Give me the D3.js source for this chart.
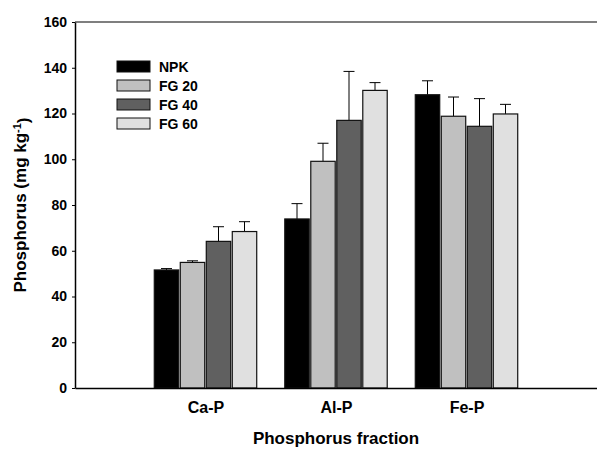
<!DOCTYPE html>
<html>
<head>
<meta charset="utf-8">
<script src="https://cdn.jsdelivr.net/npm/d3@7"></script>
<style>
  body { margin: 0; background: #fff; }
  svg text { font-family: "Liberation Sans", Arial, sans-serif; font-weight: bold; fill: #000; }
</style>
</head>
<body>
<script>
// Phosphorus fractions bar chart

// data
let categories = ["Ca-P", "Al-P", "Fe-P"];
let series = ["NPK", "FG 20", "FG 40", "FG 60"];
let colors = ["#000000", "#c0c0c0", "#606060", "#e0e0e0"];
let means = [
    [51.6, 54.9, 64.1, 68.4],    // Ca-P
    [73.9, 99.1, 117.0, 130.1],  // Al-P
    [128.2, 118.8, 114.4, 119.8] // Fe-P
];
let upper = [
    [52.2, 55.6, 70.5, 72.7],
    [80.6, 107.0, 138.4, 133.5],
    [134.3, 127.2, 126.5, 124.0]
];
let yTicks = [0, 20, 40, 60, 80, 100, 120, 140, 160];

// svg params
let svgWidth = 597;
let svgHeight = 449;
let margin = { top: 22, right: 0, bottom: 61, left: 75 };
let width = svgWidth - margin.left - margin.right;
let height = svgHeight - margin.top - margin.bottom;

let svg = d3.select("body")
    .append("svg")
    .attr("width", svgWidth)
    .attr("height", svgHeight);

let chartGroup = svg.append("g")
    .attr("transform", `translate(${margin.left}, ${margin.top})`);

// scales
let xScale = d3.scaleLinear()
    .domain([0, categories.length + 1])
    .range([0, width]);

let offset = d3.scaleBand()
    .domain(series)
    .range([-52, 52])
    .paddingInner(0.06)
    .paddingOuter(0.03);

let yScale = d3.scaleLinear()
    .domain([0, 160])
    .range([height, 0]);

// flatten for drawing
let rows = [];
categories.forEach((c, i) => {
    series.forEach((s, j) => {
        rows.push({ cat: c, pos: i + 1, s: s, color: colors[j], v: means[i][j], hi: upper[i][j] });
    });
});

// error bars (upper only)
let errGroup = chartGroup.append("g");
errGroup.selectAll("line.stem")
    .data(rows)
    .enter()
    .append("line")
    .attr("x1", d => xScale(d.pos) + offset(d.s) + offset.bandwidth() / 2)
    .attr("x2", d => xScale(d.pos) + offset(d.s) + offset.bandwidth() / 2)
    .attr("y1", d => yScale(d.v))
    .attr("y2", d => yScale(d.hi))
    .attr("stroke", "#000")
    .attr("stroke-width", 1);
errGroup.selectAll("line.cap")
    .data(rows)
    .enter()
    .append("line")
    .attr("x1", d => xScale(d.pos) + offset(d.s) + offset.bandwidth() / 2 - 5.5)
    .attr("x2", d => xScale(d.pos) + offset(d.s) + offset.bandwidth() / 2 + 5.5)
    .attr("y1", d => yScale(d.hi))
    .attr("y2", d => yScale(d.hi))
    .attr("stroke", "#000")
    .attr("stroke-width", 1);

// bars
chartGroup.selectAll("rect.bar")
    .data(rows)
    .enter()
    .append("rect")
    .attr("class", "bar")
    .attr("x", d => xScale(d.pos) + offset(d.s))
    .attr("y", d => yScale(d.v))
    .attr("width", offset.bandwidth())
    .attr("height", d => height - yScale(d.v))
    .attr("fill", d => d.color)
    .attr("stroke", "#111")
    .attr("stroke-width", 1.2);

// top frame line
chartGroup.append("line")
    .attr("x1", 0)
    .attr("x2", width)
    .attr("y1", 0)
    .attr("y2", 0)
    .attr("stroke", "#555")
    .attr("stroke-width", 1.5);

// axes
let yAxis = d3.axisLeft(yScale)
    .tickValues(yTicks)
    .tickSizeInner(3)
    .tickSizeOuter(0)
    .tickPadding(5);
let yG = chartGroup.append("g").call(yAxis);
yG.selectAll("text").style("font-size", "14px");
yG.select(".domain").attr("stroke", "#000").attr("stroke-width", 1.5);

let xAxis = d3.axisBottom(xScale)
    .tickValues(categories.map((c, i) => i + 1))
    .tickFormat((d, i) => categories[i])
    .tickSize(0)
    .tickPadding(14);
let xG = chartGroup.append("g")
    .attr("transform", `translate(0, ${height})`)
    .call(xAxis);
xG.selectAll("text").style("font-size", "16px");
xG.select(".domain").attr("stroke", "#000").attr("stroke-width", 1.5);

// legend
let legend = svg.append("g")
    .attr("transform", "translate(117, 61)");
let items = legend.selectAll("g")
    .data(series)
    .enter()
    .append("g")
    .attr("transform", (d, i) => `translate(0, ${i * 19})`);
items.append("rect")
    .attr("width", 33)
    .attr("height", 11)
    .attr("fill", (d, i) => colors[i])
    .attr("stroke", "#111")
    .attr("stroke-width", 1);
items.append("text")
    .attr("x", 42)
    .attr("y", 10.5)
    .style("font-size", "14px")
    .text(d => d);

// axis titles
svg.append("text")
    .attr("transform", `translate(${margin.left + width / 2}, 444)`)
    .attr("text-anchor", "middle")
    .style("font-size", "17px")
    .text("Phosphorus fraction");

let yTitle = svg.append("text")
    .attr("transform", `translate(26, ${margin.top + height / 2}) rotate(-90)`)
    .attr("text-anchor", "middle")
    .style("font-size", "17px");
yTitle.append("tspan").text("Phosphorus (mg kg");
yTitle.append("tspan")
    .attr("dy", "-0.5em")
    .style("font-size", "11px")
    .text("-1");
yTitle.append("tspan")
    .attr("dy", "0.5em")
    .text(")");
</script>
</body>
</html>
